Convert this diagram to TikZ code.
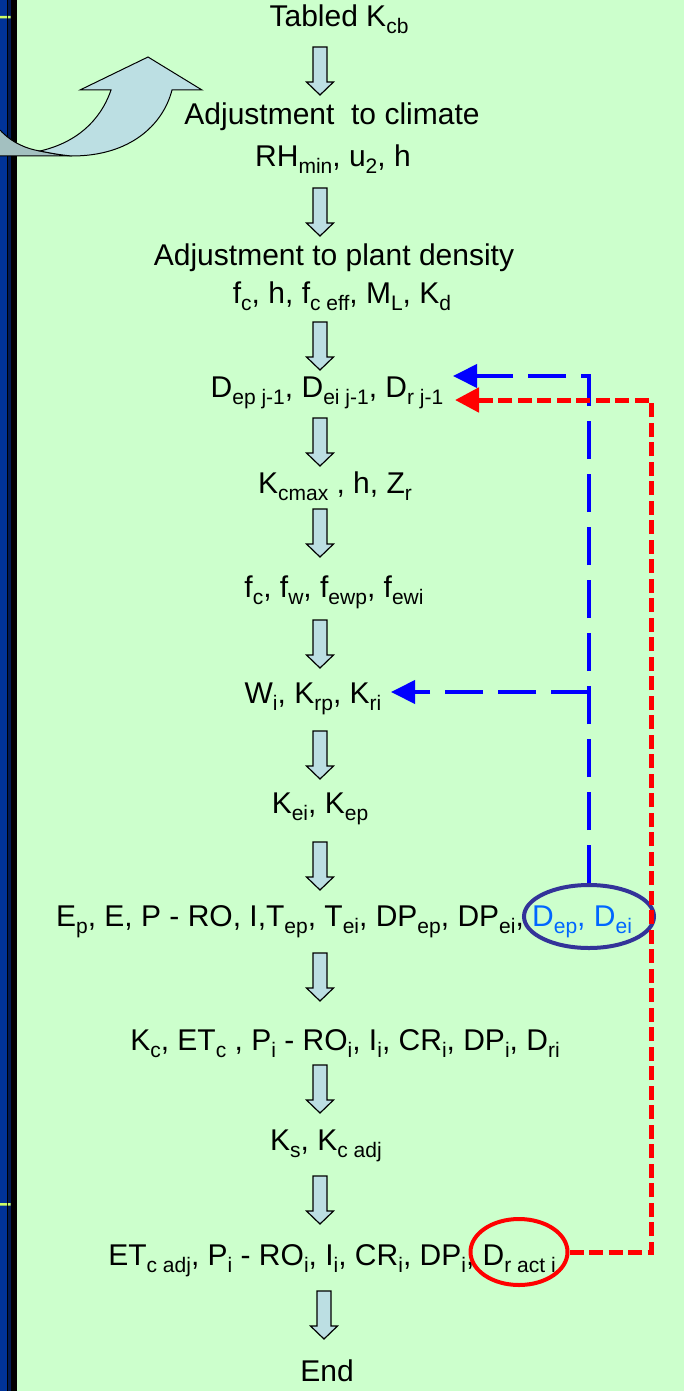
\documentclass[tikz,border=0pt]{standalone}
\usepackage{fontspec}
\setmainfont{Liberation Sans}
\usepackage{xcolor}
\usepackage{tikz}
\usetikzlibrary{arrows.meta, shapes.geometric}
\definecolor{bggreen}{HTML}{CCFFCC}
\definecolor{arrblue}{HTML}{BCDFE3}
\definecolor{tailgrey}{HTML}{A3C0C0}
\definecolor{stripblue}{HTML}{003399}
\definecolor{stripnavy}{HTML}{001A55}
\definecolor{ringblue}{HTML}{333399}
\definecolor{textblue}{HTML}{0066FF}
\definecolor{markyellow}{HTML}{CCFF66}
\newcommand{\lo}[1]{\raisebox{-7pt}{\fontsize{21}{21}\selectfont #1}}

\begin{document}
\begin{tikzpicture}[x=1pt, y=-1pt, font=\fontsize{30}{30}\selectfont,
        row/.style={anchor=base, inner sep=0pt},
        dn/.pic={\draw[line width=1.2pt, fill=arrblue] (-7,0) -- (7,0) -- (7,35) -- (13.5,35) -- (0,48) -- (-13.5,35) -- (-7,35) -- cycle;},
        ring/.style={draw, ellipse, line width=4pt, inner sep=0pt},
        fb/.style={blue, line width=4pt, dash pattern=on 38pt off 15pt, -{Triangle[length=24pt, width=23pt]}},
        fr/.style={red, line width=5pt, dash pattern=on 14pt off 5.5pt, -{Triangle[length=24pt, width=24pt]}}]
        \useasboundingbox (0,0) rectangle (684,1391);
        \fill[bggreen] (0,0) rectangle (684,1391);
        \fill[stripblue] (0,0) rectangle (7,1391);
        \fill[black] (7,0) rectangle (8,1391);
        \fill[stripnavy] (8,0) rectangle (10.5,1391);
        \fill[black] (10.5,0) rectangle (16.5,1391);
        \fill[markyellow] (0,16) rectangle (7,18.5) (8,16) rectangle (10.5,18.5);
        \fill[markyellow] (0,1203) rectangle (7,1205.5) (8,1203) rectangle (10.5,1205.5);
        \draw[line width=1pt, fill=tailgrey] (0,130) .. controls (12,143) and (27,149) .. (40,151) .. controls (50,153) and (60,155) .. (72,156) -- (0,156);
        \draw[line width=1pt, fill=arrblue] (111,90) .. controls (100,122) and (75,143) .. (40,151) .. controls (50,153) and (60,155) .. (72,156) .. controls (130,156) and (163,125) .. (172,90) -- (202,90) -- (148,57) -- (80,90) -- cycle;

        \node[row] (kcb) at (339,27) {Tabled K\lo{cb}};
        \node[row] (clim) at (332,125) {Adjustment~ to climate};
        \node[row] (rh) at (333,167) {RH\lo{min}, u\lo{2}, h};
        \node[row] (dens) at (334,265) {Adjustment to plant density};
        \node[row] (fc) at (342,303) {f\lo{c}, h, f\lo{c eff}, M\lo{L}, K\lo{d}};
        \node[row] (dprev) at (327,397) {D\lo{ep j-1}, D\lo{ei j-1}, D\lo{r j-1}};
        \node[row] (kcmax) at (335,493) {K\lo{cmax} , h, Z\lo{r}};
        \node[row] (fw) at (334,597) {f\lo{c}, f\lo{w}, f\lo{ewp}, f\lo{ewi}};
        \node[row] (wi) at (313,703) {W\lo{i}, K\lo{rp}, K\lo{ri}};
        \node[row] (kei) at (320,813) {K\lo{ei}, K\lo{ep}};
        \node[row] (evap) at (344,926) {E\lo{p}, E, P - RO, I,T\lo{ep}, T\lo{ei}, DP\lo{ep}, DP\lo{ei}, {\color{textblue}D\lo{ep}, D\lo{ei}}};
        \node[row] (kc) at (345,1050) {K\lo{c}, ET\lo{c} , P\lo{i} - RO\lo{i}, I\lo{i}, CR\lo{i}, DP\lo{i}, D\lo{ri}};
        \node[row] (ks) at (326,1150) {K\lo{s}, K\lo{c adj}};
        \node[row] (etadj) at (332,1265) {ET\lo{c adj}, P\lo{i} - RO\lo{i}, I\lo{i}, CR\lo{i}, DP\lo{i}, D\lo{r act i}};
        \node[row] (fin) at (327,1381) {End};

        \pic at (320,47) {dn};
        \pic at (320,188) {dn};
        \pic at (320,322) {dn};
        \pic at (320,418) {dn};
        \pic at (320,509) {dn};
        \pic at (320,620) {dn};
        \pic at (320,731) {dn};
        \pic at (320,842) {dn};
        \pic at (320,953) {dn};
        \pic at (320,1065) {dn};
        \pic at (320,1176) {dn};
        \pic at (324,1291) {dn};

        \node[ring, ringblue, minimum width=130pt, minimum height=63pt] (dee) at (589,916.5) {};
        \node[ring, red, minimum width=97pt, minimum height=66pt] (drr) at (519,1252) {};
        \coordinate (tipd) at (453,376);
        \coordinate (tipw) at (391,692);
        \coordinate (tipr) at (455,400);
        \coordinate (rc) at (651,400);
        \draw[fb] (dee.north) |- (tipd);
        \draw[fb] (dee.north |- tipw) -- (tipw);
        \draw[fr] (drr.east) -| (rc) -- (tipr);
      \end{tikzpicture}
\end{document}
